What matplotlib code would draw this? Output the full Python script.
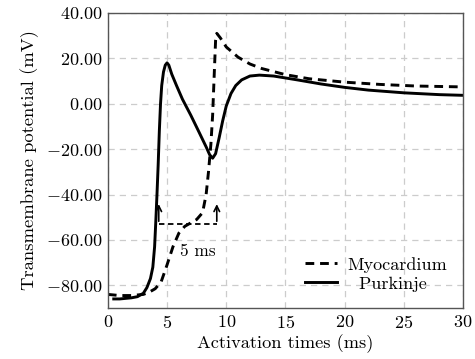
import matplotlib
matplotlib.use("Agg")
import matplotlib.pyplot as plt
from matplotlib.ticker import FuncFormatter

plt.rcParams["font.family"] = "cmr10"
plt.rcParams["mathtext.fontset"] = "cm"
plt.rcParams["axes.formatter.use_mathtext"] = True

# Purkinje action potential (solid)
purk_t = [0.5, 1, 2, 2.5, 3, 3.3, 3.6, 3.8, 3.95, 4.05, 4.15, 4.25, 4.35, 4.45,
          4.55, 4.7, 4.85, 5.0, 5.15, 5.4, 5.8, 6.3, 7.0, 7.7, 8.3, 8.6, 8.85,
          9.1, 9.4, 9.7, 10.0, 10.4, 10.8, 11.3, 12.0, 12.8, 14, 16, 18, 20,
          22, 25, 28, 30]
purk_v = [-86, -86, -85.5, -85, -83.5, -81, -77, -72, -63, -52, -40, -27, -12, 0,
          8, 14, 17, 18, 17, 13, 8, 2, -5, -12.5, -19, -22.5, -24,
          -22, -15, -7.5, -1, 4.5, 8, 10.5, 12.2, 12.6, 12.2, 10.5, 8.7, 7.2,
          6, 4.8, 4, 3.7]

# Myocardium action potential (dashed)
myo_t = [0, 1, 2, 3, 3.5, 4, 4.5, 5, 5.5, 6, 6.5, 7, 7.5, 8, 8.3, 8.5, 8.7,
         8.85, 9.0, 9.1, 9.2, 9.5, 10, 11, 12, 13, 15, 17, 20, 23, 26, 30]
myo_v = [-84, -84.5, -84.5, -84, -83, -81.5, -78.5, -71, -63, -57, -54, -52.5,
         -51, -48, -40, -30, -18, -5, 15, 28, 31, 29, 25, 20.5, 17.5, 15.5,
         12.8, 11, 9.5, 8.5, 7.8, 7.4]

# delay annotation
delay_start, delay_end = 4.3, 9.2
delay_level = -53
delay_label = "5 ms"

fig = plt.figure(figsize=(4.75, 3.59), dpi=100)
ax = fig.add_axes([0.227, 0.142, 0.748, 0.822])

ax.plot(myo_t, myo_v, color="black", lw=2.1, ls=(0, (3, 2)), label="Myocardium")
ax.plot(purk_t, purk_v, color="black", lw=2.1, label="  Purkinje")

# 5 ms marker
ax.plot([delay_start, delay_end], [delay_level, delay_level],
        color="black", lw=1.3, ls=(0, (3, 2)))
for xa in (delay_start, delay_end):
    ax.annotate("", xy=(xa, delay_level + 10), xytext=(xa, delay_level),
                arrowprops=dict(arrowstyle="->", color="black", lw=1.2))
ax.text(7.6, -65, delay_label, ha="center", va="center", fontsize=12.5)

ax.set_xlim(0, 30)
ax.set_ylim(-90, 40)
ax.set_xticks([0, 5, 10, 15, 20, 25, 30])
ax.set_yticks([-80, -60, -40, -20, 0, 20, 40])
ax.xaxis.set_major_formatter(FuncFormatter(lambda v, p: f"${v:.0f}$"))
ax.yaxis.set_major_formatter(FuncFormatter(lambda v, p: f"${v:.2f}$"))
ax.tick_params(labelsize=13, length=0, pad=4)
ax.grid(True, color="#cccccc", ls=(0, (5, 4)), lw=0.9)
for s in ax.spines.values():
    s.set_color("#555555")
    s.set_linewidth(1.0)

ax.set_xlabel("Activation times (ms)", fontsize=13.2, labelpad=3)
ax.set_ylabel("Transmembrane potential (mV)", fontsize=13.4, labelpad=5)

ax.legend(loc="lower right", frameon=False, fontsize=13, handlelength=1.8,
          handletextpad=0.55, borderaxespad=0.5, labelspacing=0.2)

fig.savefig("out.png", dpi=100)
